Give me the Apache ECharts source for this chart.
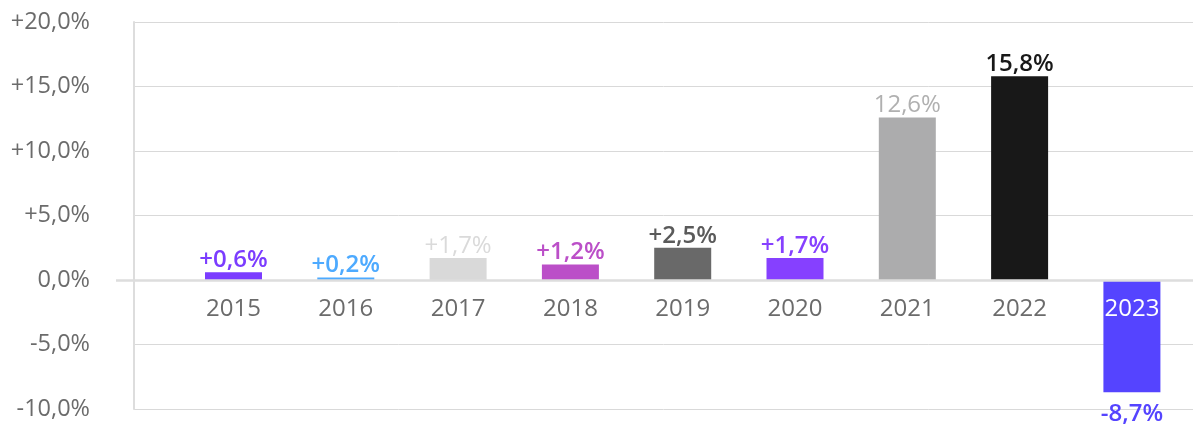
<!DOCTYPE html>
<html>
<head>
<meta charset="utf-8">
<script src="https://cdn.jsdelivr.net/npm/echarts@6/dist/echarts.min.js"></script>
<style>
  html, body, #main { width: 100%; height: 100%; margin: 0; background: #fff; }
</style>
</head>
<body>
<div id="main"></div>
<script>
var years = ['2015', '2016', '2017', '2018', '2019', '2020', '2021', '2022', '2023']
var growth = [0.6, 0.2, 1.7, 1.2, 2.5, 1.7, 12.6, 15.8, -8.7]
var barLabels = ['+0,6%', '+0,2%', '+1,7%', '+1,2%', '+2,5%', '+1,7%', '12,6%', '15,8%', '-8,7%']
var barColors = ['#7b3cff', '#4daaff', '#d9d9d9', '#bb4fc8', '#696969', '#8640ff', '#acacad', '#181818', '#5544ff']
var labelColors = ['#7b3cff', '#4daaff', '#dadada', '#bb4fc8', '#5a5a5a', '#8640ff', '#b0b0b0', '#181818', '#5544ff']
var labelWeights = [600, 600, 'normal', 600, 600, 600, 'normal', 600, 600]
var yTicks = [-10, -5, 0, 5, 10, 15, 20]

var chart = echarts.init(document.getElementById('main'))

var gridTop = 22, gridBottom = 16
var gridH = 425 - gridTop - gridBottom
var yMin = yTicks[0], yMax = yTicks[yTicks.length - 1]
// lift the x axis (line + labels) up to the zero line
var zeroOffset = -gridH * (0 - yMin) / (yMax - yMin)

var fmtPct = function (v) {
  var s = Math.abs(v).toFixed(1).replace('.', ',') + '%'
  if (v > 0) return '+' + s
  if (v < 0) return '-' + s
  return s
}

var data = growth.map(function (v, i) {
  return {
    value: [i, v],
    itemStyle: { color: barColors[i] },
    label: {
      position: v < 0 ? 'bottom' : 'top',
      distance: v < 0 ? 10 : 0,
      color: labelColors[i],
      fontWeight: labelWeights[i],
      formatter: barLabels[i]
    }
  }
})

chart.setOption({
  animation: false,
  grid: { left: 134, right: 0, top: gridTop, bottom: gridBottom, outerBoundsMode: 'none' },
  xAxis: {
    type: 'value',
    min: -0.886,
    max: 8.544,
    z: 10,
    offset: zeroOffset,
    splitLine: { show: false },
    axisTick: { show: false },
    axisLine: { show: true, onZero: false, lineStyle: { color: '#dddddd', width: 2.5 } },
    axisLabel: {
      customValues: years.map(function (y, i) { return i }),
      formatter: function (v) { return years[Math.round(v)] },
      fontFamily: 'Open Sans',
      fontSize: 24,
      margin: 17,
      color: function (v) { return growth[Math.round(v)] < 0 ? '#ffffff' : '#6b6b6b' }
    }
  },
  yAxis: [{
    type: 'value',
    min: yMin,
    max: yMax,
    interval: 5,
    axisLine: { show: true, onZero: false, lineStyle: { color: '#dddddd', width: 2 } },
    axisTick: { show: false },
    splitLine: { show: true, lineStyle: { color: '#d9d9d9', width: 1 } },
    axisLabel: {
      formatter: fmtPct,
      fontFamily: 'Open Sans',
      fontSize: 23.5,
      margin: 44,
      color: '#6b6b6b'
    }
  }, {
    // only carries the short stub of the zero line left of the axis
    type: 'value',
    position: 'left',
    min: yMin,
    max: yMax,
    interval: 5,
    axisLine: { show: false, onZero: false },
    axisLabel: { show: false },
    splitLine: { show: false },
    axisTick: { show: true, customValues: [0], length: 18, lineStyle: { color: '#dddddd', width: 2.5 } }
  }],
  series: [{
    type: 'bar',
    barWidth: 57,
    data: data,
    label: {
      show: true,
      fontFamily: 'Open Sans',
      fontSize: 24
    }
  }]
})
</script>
</body>
</html>
